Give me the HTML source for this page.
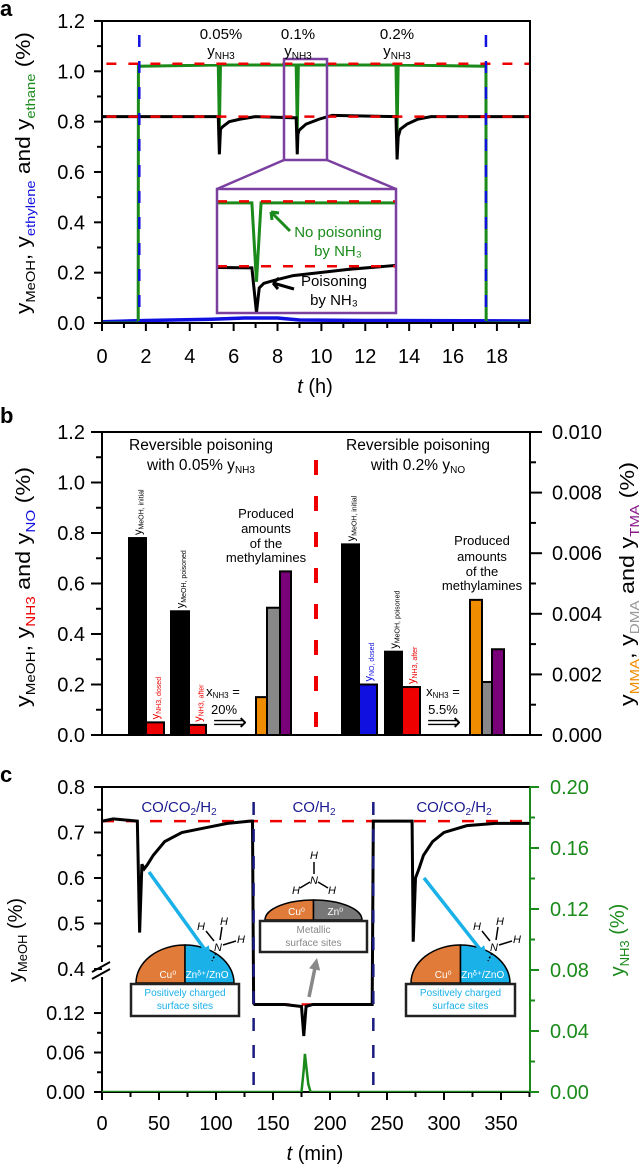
<!DOCTYPE html>
<html><head><meta charset="utf-8"><style>
html,body{margin:0;padding:0;background:#fff;}
svg{display:block;font-family:"Liberation Sans",Arial,sans-serif;}
</style></head><body>
<svg id="fig" width="642" height="1166" viewBox="0 0 642 1166" xmlns="http://www.w3.org/2000/svg">
<defs>
<clipPath id="clipA"><rect x="102" y="21" width="428" height="302"/></clipPath>
<clipPath id="clipI"><rect x="217" y="189" width="179" height="124"/></clipPath>
<clipPath id="clipC"><rect x="102" y="787" width="428" height="305"/></clipPath>
</defs>
<g id="gA"></g>
<g id="gB"></g>
<g id="gC"></g>

<text x="0" y="16" font-size="22" font-weight="bold">a</text>
<text transform="translate(30,173) rotate(-90)" text-anchor="middle" font-size="20" textLength="282" lengthAdjust="spacingAndGlyphs">y<tspan font-size="13" dy="5">MeOH</tspan><tspan dy="-5">, y</tspan><tspan font-size="13" dy="5" fill="#1010e0">ethylene</tspan><tspan dy="-5"> and y</tspan><tspan font-size="13" dy="5" fill="#1a8a1a">ethane</tspan><tspan dy="-5"> (%)</tspan></text>
<text x="315" y="393" text-anchor="middle" font-size="20"><tspan font-style="italic">t</tspan> (h)</text>
<g font-size="15" text-anchor="middle">
<text x="221" y="39">0.05%</text><text x="221" y="56">y<tspan font-size="10" dy="3">NH3</tspan></text>
<text x="298" y="39">0.1%</text><text x="298" y="56">y<tspan font-size="10" dy="3">NH3</tspan></text>
<text x="397" y="39">0.2%</text><text x="397" y="56">y<tspan font-size="10" dy="3">NH3</tspan></text>
</g>

<text x="0" y="423" font-size="22" font-weight="bold">b</text>
<text transform="translate(30,587) rotate(-90)" text-anchor="middle" font-size="20" textLength="240" lengthAdjust="spacingAndGlyphs">y<tspan font-size="13" dy="5">MeOH</tspan><tspan dy="-5">, y</tspan><tspan font-size="13" dy="5" fill="#e00">NH3</tspan><tspan dy="-5"> and y</tspan><tspan font-size="13" dy="5" fill="#1010e0">NO</tspan><tspan dy="-5"> (%)</tspan></text>
<text transform="translate(634,584) rotate(-90)" text-anchor="middle" font-size="20" textLength="244" lengthAdjust="spacingAndGlyphs">y<tspan font-size="13" dy="5" fill="#f08c00">MMA</tspan><tspan dy="-5">, y</tspan><tspan font-size="13" dy="5" fill="#999">DMA</tspan><tspan dy="-5"> and y</tspan><tspan font-size="13" dy="5" fill="#8a1a8a">TMA</tspan><tspan dy="-5"> (%)</tspan></text>
<g font-size="15.5" text-anchor="middle">
<text x="201" y="450">Reversible poisoning</text>
<text x="201" y="470">with 0.05% y<tspan font-size="10" dy="3">NH3</tspan></text>
<text x="418" y="450">Reversible poisoning</text>
<text x="418" y="470">with 0.2% y<tspan font-size="10" dy="3">NO</tspan></text>
<g font-size="13">
<text x="266" y="518">Produced</text><text x="266" y="533">amounts</text><text x="266" y="548">of the</text><text x="266" y="562">methylamines</text>
<text x="482" y="545">Produced</text><text x="482" y="561">amounts</text><text x="482" y="576">of the</text><text x="482" y="590">methylamines</text>
<text x="223" y="696">x<tspan font-size="8" dy="2">NH3</tspan><tspan dy="-2"> =</tspan></text>
<text x="224" y="714">20%</text>
<text x="443" y="696">x<tspan font-size="8" dy="2">NH3</tspan><tspan dy="-2"> =</tspan></text>
<text x="443" y="714">5.5%</text>
</g>
<text x="230" y="730" font-size="24">⟹</text>
<text x="444" y="730" font-size="24">⟹</text>
</g>

<text x="0" y="782" font-size="22" font-weight="bold">c</text>
<text transform="translate(22,940) rotate(-90)" text-anchor="middle" font-size="20">y<tspan font-size="13" dy="5">MeOH</tspan><tspan dy="-5"> (%)</tspan></text>
<text transform="translate(624,940) rotate(-90)" text-anchor="middle" font-size="20" fill="#1a8a1a">y<tspan font-size="13" dy="5">NH3</tspan><tspan dy="-5"> (%)</tspan></text>
<text x="315" y="1160" text-anchor="middle" font-size="20"><tspan font-style="italic">t</tspan> (min)</text>
<g font-size="15" fill="#1a1a90" text-anchor="middle">
<text x="179" y="812">CO/CO<tspan font-size="10" dy="3">2</tspan><tspan dy="-3">/H</tspan><tspan font-size="10" dy="3">2</tspan></text>
<text x="314" y="812">CO/H<tspan font-size="10" dy="3">2</tspan></text>
<text x="454" y="812">CO/CO<tspan font-size="10" dy="3">2</tspan><tspan dy="-3">/H</tspan><tspan font-size="10" dy="3">2</tspan></text>
</g>
<g id="cartoons"></g>
<g id="insetText" font-size="15" text-anchor="middle"></g>
</svg>
<script>
// ---------- Panel a data ----------
const aTicksX = [0,2,4,6,8,10,12,14,16,18];
const aTicksY = [0.0,0.2,0.4,0.6,0.8,1.0,1.2];
const aMeohT = [0,5.3,5.35,5.4,5.5,5.8,6.3,7,8.85,8.9,8.93,8.98,9.1,9.3,9.6,9.9,10.3,10.5,13.4,13.45,13.5,13.6,13.9,14.4,15,19.5];
const aMeohY = [0.82,0.82,0.67,0.77,0.78,0.80,0.81,0.82,0.815,0.67,0.75,0.765,0.775,0.79,0.80,0.81,0.82,0.825,0.82,0.65,0.74,0.77,0.79,0.81,0.82,0.82];
const aEthaneT = [0,1.65,1.66,5.3,5.35,5.4,8.85,8.9,8.95,13.4,13.45,13.5,17.5,17.51,19.5];
const aEthaneY = [0,0,1.02,1.025,0.77,1.025,1.025,0.77,1.025,1.025,0.76,1.025,1.02,0,0];
const aEthyleneT = [0,2,5,6.5,8,9,12,19.5];
const aEthyleneY = [0.005,0.01,0.015,0.02,0.02,0.012,0.01,0.008];
const aRefLevels = [1.03,0.82];
const aSwitchTimes = [1.7,17.5];

// ---------- Panel b data ----------
const bCategories = ['MeOH-initial-1','NH3-dosed','MeOH-poisoned-1','NH3-after-1','MMA-1','DMA-1','TMA-1','MeOH-initial-2','NO-dosed','MeOH-poisoned-2','NH3-after-2','MMA-2','DMA-2','TMA-2'];
const bValues = [0.78,0.05,0.49,0.04,0.00125,0.0042,0.0054,0.755,0.2,0.33,0.19,0.00446,0.00175,0.00283];
const bAxisSide = ['L','L','L','L','R','R','R','L','L','L','L','R','R','R'];
const bTicksL = ['0.0','0.2','0.4','0.6','0.8','1.0','1.2'];
const bTicksR = ['0.000','0.002','0.004','0.006','0.008','0.010'];

// ---------- Panel c data ----------
const cMeohT = [0,10,31,33,35,37,40,45,55,70,90,110,130,132,133,134,160,175,177,179,185,236,237,238,239,270,272,273,275,278,282,290,300,320,345,375];
const cMeohY = [0.725,0.73,0.725,0.48,0.63,0.62,0.63,0.65,0.68,0.70,0.71,0.72,0.725,0.725,0.135,0.133,0.133,0.13,0.085,0.13,0.133,0.133,0.133,0.725,0.725,0.725,0.725,0.46,0.60,0.62,0.65,0.68,0.70,0.715,0.72,0.72];
const cNh3T = [0,175,177,178,179,181,183,375];
const cNh3Y = [0,0,0.015,0.025,0.018,0.005,0,0];
const cTicksX = [0,50,100,150,200,250,300,350];
const cTicksUpper = [0.4,0.5,0.6,0.7,0.8];
const cTicksLower = [0.00,0.06,0.12];
const cTicksR = [0.00,0.04,0.08,0.12,0.16,0.20];
const cRefLevels = [0.725,0.133];
const cSwitchTimes = [133,238];

const NS='http://www.w3.org/2000/svg';
function mk(tag, attrs, parent){const e=document.createElementNS(NS,tag);for(const k in attrs)e.setAttribute(k,attrs[k]);parent.appendChild(e);return e;}
function pathD(xs,ys,fx,fy){let d='';for(let i=0;i<xs.length;i++){d+=(i?'L':'M')+fx(xs[i]).toFixed(2)+','+fy(ys[i]).toFixed(2);}return d;}

// ---------- Panel A ----------
const gA=document.getElementById('gA');
const xA=t=>102+t*21.94, yA=v=>323-v*251.7;
for(let t=0;t<=19;t++){
  const tk=mk('line',{x1:xA(t),x2:xA(t),y1:323,y2:t%2?328:331,stroke:'#000','stroke-width':2},gA);
  
  
}
aTicksX.forEach(t=>{
  const l=mk('text',{x:xA(t),y:363,'text-anchor':'middle','font-size':20},gA);l.textContent=String(t);
  
  
});
for(let i=0;i<=12;i++){
  const v=i/10;
  const tk=mk('line',{x1:102,x2:i%2?97:94,y1:yA(v),y2:yA(v),stroke:'#000','stroke-width':2},gA);
  
  
}
aTicksY.forEach(v=>{
  const l=mk('text',{x:85,y:yA(v)+7,'text-anchor':'end','font-size':20},gA);l.textContent=v.toFixed(1);
  
  
});
const plotA=mk('g',{'clip-path':'url(#clipA)'},gA);


const ethyl=mk('path',{d:pathD(aEthyleneT,aEthyleneY,xA,yA),fill:'none',stroke:'#1010e0','stroke-width':3.5},plotA);


const eth=mk('path',{d:pathD(aEthaneT,aEthaneY,xA,yA),fill:'none',stroke:'#1a8a1a','stroke-width':3},plotA);


const meA=mk('path',{d:pathD(aMeohT,aMeohY,xA,yA),fill:'none',stroke:'#000','stroke-width':3},plotA);


aRefLevels.forEach(v=>{
  const r=mk('line',{x1:xA(0.2),x2:530,y1:yA(v),y2:yA(v),stroke:'#e00','stroke-width':2.5,'stroke-dasharray':'10,12'},plotA);
  
  
});
aSwitchTimes.forEach(t=>{
  const s=mk('line',{x1:xA(t),x2:xA(t),y1:35,y2:323,stroke:'#1010e0','stroke-width':2.5,'stroke-dasharray':'12,14'},gA);
  
  
});
const frameA=mk('rect',{x:102,y:21,width:428,height:302,fill:'none',stroke:'#000','stroke-width':2},gA);


const xI=t=>217+(t-8.47)/1.95*179, yI=v=>189+(1.07-v)/0.401*124;
const zoomBox=mk('rect',{x:284,y:59,width:43,height:101,fill:'none',stroke:'#7b3fa0','stroke-width':2.5},gA);


const zl=mk('path',{d:'M284,160 L217,189 M327,160 L396,189',fill:'none',stroke:'#7b3fa0','stroke-width':2.5},gA);


const inset=mk('rect',{x:217,y:189,width:179,height:124,fill:'#fff',stroke:'none'},gA);


const plotI=mk('g',{'clip-path':'url(#clipI)'},gA);


const iEth=mk('path',{d:pathD(aEthaneT,aEthaneY,xI,yI),fill:'none',stroke:'#1a8a1a','stroke-width':3},plotI);


const iMe=mk('path',{d:pathD(aMeohT,aMeohY,xI,yI),fill:'none',stroke:'#000','stroke-width':3},plotI);


aRefLevels.forEach(v=>{
  const r=mk('line',{x1:217,x2:396,y1:yI(v),y2:yI(v),stroke:'#e00','stroke-width':2.5,'stroke-dasharray':'10,12'},plotI);
  
  
});
const insetFrame=mk('rect',{x:217,y:189,width:179,height:124,fill:'none',stroke:'#7b3fa0','stroke-width':2.5},gA);


const ga=mk('path',{d:'M290,231 L271,212 M271,212 l1,8 M271,212 l8,1',fill:'none',stroke:'#1a8a1a','stroke-width':3},gA);


const ba=mk('path',{d:'M294,289 L273,283 M273,283 l6,-5 M273,283 l5,6',fill:'none',stroke:'#000','stroke-width':3},gA);


const gIT=document.getElementById('insetText');
[['No poisoning',338,237,'#1a8a1a'],['by NH₃',338,256,'#1a8a1a'],['Poisoning',334,286,'#000'],['by NH₃',334,305,'#000']].forEach(([s,x,y,c])=>{
  const t=mk('text',{x:x,y:y,fill:c},gIT);t.textContent=s;
  
  
});

// ---------- Panel B ----------
const gB=document.getElementById('gB');
const yBL=v=>735-v*252.5, yBR=v=>735-v*30300;
const fr=mk('rect',{x:102,y:432,width:428,height:303,fill:'none',stroke:'#000','stroke-width':2},gB);


for(let i=0;i<=12;i++){
  const v=i/10;
  const tk=mk('line',{x1:102,x2:i%2?96:91,y1:yBL(v),y2:yBL(v),stroke:'#000','stroke-width':2},gB);
  
  
}
bTicksL.forEach(s=>{
  const l=mk('text',{x:85,y:yBL(parseFloat(s))+7,'text-anchor':'end','font-size':20},gB);l.textContent=s;
  
  
});
for(let i=0;i<=10;i++){
  const v=i/1000;
  const tk=mk('line',{x1:530,x2:i%2?536:542,y1:yBR(v),y2:yBR(v),stroke:'#000','stroke-width':2},gB);
  
  
}
bTicksR.forEach(s=>{
  const l=mk('text',{x:552,y:yBR(parseFloat(s))+7,'font-size':20},gB);l.textContent=s;
  
  
});
const BAR_LAYOUT=[[129,17],[146,18],[171,18],[189,17],[256,11],[267,13],[280,11],[342,17],[359,18],[385,17],[402,18],[470,12],[482,10],[492,12]];
const BAR_FILL=['#000','#e00','#000','#e00','#f08c00','#888','#7a007a','#000','#1010e0','#000','#e00','#f08c00','#888','#7a007a'];
const BAR_LABELS=[['MeOH, initial','#000'],['NH3, dosed','#e00'],['MeOH, poisoned','#000'],['NH3, after','#e00'],null,null,null,['MeOH, initial','#000'],['NO, dosed','#1010e0'],['MeOH, poisoned','#000'],['NH3, after','#e00'],null,null,null];
bCategories.forEach((c,i)=>{
  const v=bValues[i];
  const y=bAxisSide[i]==='L'?yBL(v):yBR(v);
  const [x,w]=BAR_LAYOUT[i];
  const b=mk('rect',{x:x,y:y,width:w,height:735-y,fill:BAR_FILL[i],stroke:'#000','stroke-width':2},gB);
  
  
  const lab=BAR_LABELS[i];
  if(lab){
    const t=mk('text',{transform:'translate('+(x+w/2+4)+','+(y-3)+') rotate(-90)','font-size':11,fill:lab[1]},gB);
    const t1=mk('tspan',{},t);t1.textContent='y';
    const t2=mk('tspan',{'font-size':7,dy:2},t);t2.textContent=lab[0];
    
    
  }
});
const sep=mk('line',{x1:316,x2:316,y1:460,y2:733,stroke:'#e00','stroke-width':4,'stroke-dasharray':'15,21'},gB);



// ---------- Panel C ----------
const gC=document.getElementById('gC');
const xC=t=>102+t*1.14;
function yC(v){ if(v<=0.15) return 1092-v*658; if(v>=0.4) return 969-(v-0.4)*455; const a=1092-0.15*658; return a+(v-0.15)/0.25*(969-a); }
const yCR=v=>1092-v*1525;
const spC=mk('path',{d:'M102,787 L530,787 M102,787 L102,962 M102,977 L102,1092 L530,1092',fill:'none',stroke:'#000','stroke-width':2},gC);


const rsp=mk('line',{x1:530,x2:530,y1:787,y2:1092,stroke:'#1a8a1a','stroke-width':2},gC);


const brk=mk('path',{d:'M92,972 L110,962 M92,979 L110,969',fill:'none',stroke:'#000','stroke-width':2},gC);


for(let t=0;t<=375;t+=25){
  const tk=mk('line',{x1:xC(t),x2:xC(t),y1:1092,y2:t%50?1097:1100,stroke:'#000','stroke-width':2},gC);
  
  
}
cTicksX.forEach(t=>{
  const l=mk('text',{x:xC(t),y:1130,'text-anchor':'middle','font-size':20},gC);l.textContent=String(t);
  
  
});
const majorC=[0.4,0.5,0.6,0.7,0.8,0,0.06,0.12];
[0.4,0.45,0.5,0.55,0.6,0.65,0.7,0.75,0.8,0,0.03,0.06,0.09,0.12].forEach(v=>{
  const major=majorC.some(m=>Math.abs(m-v)<1e-6);
  const tk=mk('line',{x1:102,x2:major?94:97,y1:yC(v),y2:yC(v),stroke:'#000','stroke-width':2},gC);
  
  
});
cTicksUpper.forEach(v=>{
  const l=mk('text',{x:85,y:yC(v)+7,'text-anchor':'end','font-size':20},gC);l.textContent=v.toFixed(1);
  
  
});
cTicksLower.forEach(v=>{
  const l=mk('text',{x:85,y:yC(v)+7,'text-anchor':'end','font-size':20},gC);l.textContent=v.toFixed(2);
  
  
});
for(let i=0;i<=10;i++){
  const v=i*0.02;
  const tk=mk('line',{x1:530,x2:i%2?535:539,y1:yCR(v),y2:yCR(v),stroke:'#1a8a1a','stroke-width':2},gC);
  
  
}
cTicksR.forEach(v=>{
  const l=mk('text',{x:550,y:yCR(v)+7,'font-size':20,fill:'#1a8a1a'},gC);l.textContent=v.toFixed(2);
  
  
});
const plotC=mk('g',{'clip-path':'url(#clipC)'},gC);


const refTop=mk('line',{x1:102,x2:530,y1:yC(cRefLevels[0]),y2:yC(cRefLevels[0]),stroke:'#e00','stroke-width':2.5,'stroke-dasharray':'12,12'},plotC);


const refLow=mk('line',{x1:xC(cSwitchTimes[0]),x2:xC(cSwitchTimes[1]),y1:yC(cRefLevels[1]),y2:yC(cRefLevels[1]),stroke:'#e00','stroke-width':2.5,'stroke-dasharray':'12,12'},plotC);


const nh3=mk('path',{d:pathD(cNh3T,cNh3Y,xC,yCR),fill:'none',stroke:'#1a8a1a','stroke-width':2.5},plotC);


const meC=mk('path',{d:pathD(cMeohT,cMeohY,xC,yC),fill:'none',stroke:'#000','stroke-width':3},plotC);


cSwitchTimes.forEach(t=>{
  const s=mk('line',{x1:xC(t),x2:xC(t),y1:802,y2:1092,stroke:'#1a1a80','stroke-width':2.5,'stroke-dasharray':'13,14'},gC);
  
  
});

const gK=document.getElementById('cartoons');
function cartoon(x0,w,domeTop,domeBot,boxBot,rightFill,rightLbl,boxLines,boxColor,name){
  const g=mk('g',{},gK);
  
  
  const cx=x0+w/2, rx=w/2-5, ry=domeBot-domeTop;
  const l=mk('path',{d:'M'+(cx-rx)+','+domeBot+' A'+rx+','+ry+' 0 0 1 '+cx+','+domeTop+' L'+cx+','+domeBot+' Z',fill:'#e07b39',stroke:'#000','stroke-width':1.5},g);
  
  
  const r=mk('path',{d:'M'+cx+','+domeTop+' A'+rx+','+ry+' 0 0 1 '+(cx+rx)+','+domeBot+' L'+cx+','+domeBot+' Z',fill:rightFill,stroke:'#000','stroke-width':1.5},g);
  
  
  const t1=mk('text',{x:cx-rx*0.35,y:domeBot-5,'font-size':10,fill:'#fff','text-anchor':'middle'},g);t1.textContent='Cu⁰';
  
  
  const t2=mk('text',{x:cx+rx*0.45,y:domeBot-5,'font-size':10,fill:'#fff','text-anchor':'middle'},g);t2.textContent=rightLbl;
  
  
  const bx=mk('rect',{x:x0,y:domeBot+1,width:w,height:boxBot-domeBot-1,fill:'#fff',stroke:'#222','stroke-width':2.5},g);
  
  
  boxLines.forEach((s,i)=>{
    const tt=mk('text',{x:cx,y:domeBot+13+i*13,'font-size':10,fill:boxColor,'text-anchor':'middle'},g);tt.textContent=s;
    
    
  });
}
cartoon(131,108,945,983,1016,'#1ab0e8','Znᵟ⁺/ZnO',['Positively charged','surface sites'],'#1ab0e8','left-cartoon');
cartoon(406,109,945,983,1016,'#1ab0e8','Znᵟ⁺/ZnO',['Positively charged','surface sites'],'#1ab0e8','right-cartoon');
cartoon(260,107,900,920,952,'#777','Zn⁰',['Metallic','surface sites'],'#888','middle-cartoon');
function molecule(nx,ny,upright,name){
  const g=mk('g',{'font-size':11,'font-style':'italic'},gK);
  
  
  let d,labels;
  if(upright){d='M'+nx+','+(ny-6)+' L'+nx+','+(ny-18)+' M'+(nx-4)+','+(ny+2)+' L'+(nx-14)+','+(ny+8)+' M'+(nx+4)+','+(ny+2)+' L'+(nx+14)+','+(ny+8);labels=[['H',nx,ny-21],['N',nx,ny+4],['H',nx-18,ny+14],['H',nx+18,ny+14]];}
  else {d='M'+(nx-4)+','+(ny-6)+' L'+(nx-12)+','+(ny-16)+' M'+(nx+2)+','+(ny-7)+' L'+(nx+4)+','+(ny-20)+' M'+(nx+5)+','+(ny-2)+' L'+(nx+18)+','+(ny-6);labels=[['H',nx-17,ny-17],['H',nx+6,ny-22],['H',nx+23,ny-4],['N',nx,ny+4]];}
  const p=mk('path',{d:d,stroke:'#000','stroke-width':1.5,fill:'none'},g);
  
  
  if(!upright){
    const db=mk('line',{x1:nx-2,y1:ny+6,x2:nx-6,y2:ny+14,stroke:'#000','stroke-width':1.5,'stroke-dasharray':'2,2'},g);
    
    
  }
  labels.forEach(([s,x,y])=>{const t=mk('text',{x:x,y:y,'text-anchor':'middle'},g);t.textContent=s;
    
    });
}
molecule(218,947,false,'nh3-molecule-left');
molecule(494,947,false,'nh3-molecule-right');
molecule(314,880,true,'nh3-molecule-middle');
function arrow(x1,y1,x2,y2,col,name){
  const a=Math.atan2(y2-y1,x2-x1),h=10;
  const d='M'+x1+','+y1+' L'+(x2-Math.cos(a)*h*0.8)+','+(y2-Math.sin(a)*h*0.8);
  const p=mk('path',{d:d,stroke:col,'stroke-width':3.5,fill:'none'},gK);
  
  
  const hd=mk('path',{d:'M'+x2+','+y2+' L'+(x2-Math.cos(a-0.45)*h*1.3)+','+(y2-Math.sin(a-0.45)*h*1.3)+' L'+(x2-Math.cos(a+0.45)*h*1.3)+','+(y2-Math.sin(a+0.45)*h*1.3)+' Z',fill:col},gK);
  
  
}
arrow(149,872,211,958,'#1ab0e8','left-binding-arrow');
arrow(424,878,487,958,'#1ab0e8','right-binding-arrow');
arrow(309,997,317,958,'#888','middle-arrow');
</script>
</body></html>
